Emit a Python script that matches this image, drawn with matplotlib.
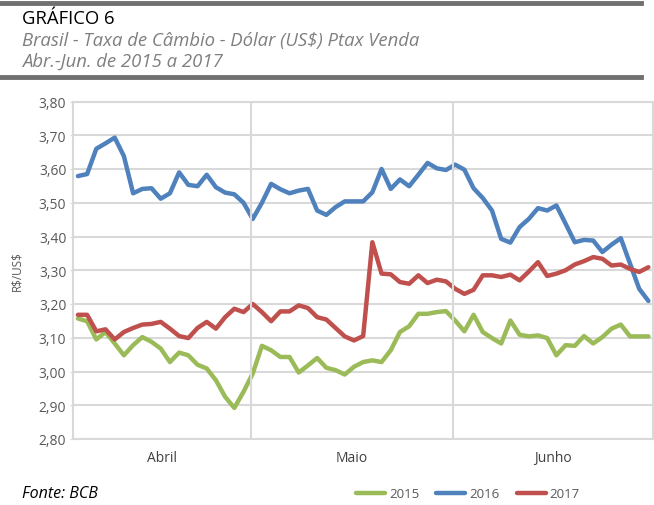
import numpy as np
import matplotlib.pyplot as plt
from matplotlib.lines import Line2D

plt.rcParams['font.family'] = ['Open Sans', 'DejaVu Sans']

# Ptax venda, dias úteis de abril a junho (R$/US$)
y2015 = [3.157, 3.149, 3.095, 3.117, 3.083, 3.048, 3.078, 3.102, 3.088, 3.068,
         3.028, 3.056, 3.048, 3.020, 3.009, 2.974, 2.925, 2.892, 2.940, 2.994,
         3.076, 3.063, 3.043, 3.043, 2.997, 3.018, 3.040, 3.011, 3.004, 2.991,
         3.014, 3.028, 3.033, 3.028, 3.063, 3.117, 3.134, 3.171, 3.171, 3.176,
         3.179, 3.151, 3.119, 3.168, 3.117, 3.099, 3.083, 3.151, 3.109, 3.104,
         3.107, 3.099, 3.048, 3.078, 3.076, 3.105, 3.083, 3.102, 3.127, 3.139,
         3.104, 3.104, 3.104]
y2016 = [3.579, 3.585, 3.660, 3.676, 3.693, 3.638, 3.528, 3.541, 3.543, 3.512,
         3.528, 3.590, 3.553, 3.549, 3.583, 3.546, 3.530, 3.525, 3.500, 3.452,
         3.500, 3.556, 3.540, 3.528, 3.536, 3.541, 3.477, 3.464, 3.487, 3.504,
         3.504, 3.504, 3.531, 3.600, 3.541, 3.569, 3.549, 3.583, 3.618, 3.602,
         3.597, 3.613, 3.598, 3.543, 3.514, 3.477, 3.393, 3.382, 3.428, 3.452,
         3.484, 3.477, 3.492, 3.438, 3.383, 3.390, 3.388, 3.354, 3.376, 3.395,
         3.320, 3.245, 3.209]
y2017 = [3.168, 3.168, 3.119, 3.125, 3.095, 3.117, 3.129, 3.139, 3.141, 3.147,
         3.127, 3.105, 3.099, 3.129, 3.147, 3.127, 3.161, 3.186, 3.176, 3.200,
         3.176, 3.149, 3.178, 3.178, 3.196, 3.188, 3.161, 3.154, 3.129, 3.104,
         3.092, 3.105, 3.383, 3.290, 3.288, 3.265, 3.260, 3.285, 3.262, 3.272,
         3.267, 3.245, 3.230, 3.242, 3.285, 3.285, 3.280, 3.287, 3.270, 3.296,
         3.324, 3.283, 3.290, 3.300, 3.317, 3.327, 3.339, 3.334, 3.314, 3.317,
         3.304, 3.295, 3.309]

years = ['2015', '2016', '2017']
colors = ['#9BBB59', '#4F81BD', '#C0504D']
months = ['Abril', 'Maio', 'Junho']
month_edges = [-0.5, 18.78, 40.8, 62.5]

yticks = np.arange(2.80, 3.801, 0.10)
ytick_labels = [f'{v:.2f}'.replace('.', ',') for v in yticks]

fig = plt.figure(figsize=(6.54, 5.06), dpi=100)

# cabeçalho
fig.add_artist(Line2D([0, 0.98], [1 - 3.5 / 506] * 2, color='#707070', lw=3.5))
fig.add_artist(Line2D([0, 0.98], [1 - 78 / 506] * 2, color='#707070', lw=3.5))
fig.text(22 / 654, 1 - 19 / 506, 'GRÁFICO 6', fontsize=13.3, color='black', va='center')
fig.text(22 / 654, 1 - 41 / 506, 'Brasil - Taxa de Câmbio - Dólar (US\\$) Ptax Venda',
         fontsize=13.3, style='italic', color='#7f7f7f', va='center')
fig.text(22 / 654, 1 - 62 / 506, 'Abr.-Jun. de 2015 a 2017',
         fontsize=13.3, style='italic', color='#7f7f7f', va='center')

ax = fig.add_axes([73.3 / 654, 1 - 440 / 506, (653 - 73.3) / 654, (440 - 102.5) / 506])
x = np.arange(len(y2015))
for ys, c, lab in zip([y2015, y2016, y2017], colors, years):
    ax.plot(x, ys, color=c, lw=3.2, label=lab, solid_joinstyle='round', solid_capstyle='round')

ax.set_xlim(-0.5, len(x) - 0.5)
ax.set_ylim(2.80, 3.80)
ax.set_yticks(yticks)
ax.set_yticklabels(ytick_labels)
ax.set_xticks([])
ax.grid(axis='y', color='#d9d9d9', lw=1.5)
for e in month_edges[1:-1]:
    ax.axvline(e, color='#d9d9d9', lw=1.5)
for s in ax.spines.values():
    s.set_color('#d9d9d9')
    s.set_linewidth(1.5)
ax.set_axisbelow(True)
ax.tick_params(axis='y', length=2, color='#d9d9d9', labelsize=10, labelcolor='#595959', pad=3)
for i, m in enumerate(months):
    ax.text((month_edges[i] + month_edges[i + 1]) / 2, 2.745, m, ha='center', va='center',
            fontsize=10, color='#404040', transform=ax.transData, clip_on=False)
ax.set_ylabel('R\\$/US\\$', fontsize=8.5, color='#595959', labelpad=11)

fig.text(22 / 654, 1 - 494 / 506, 'Fonte: BCB', fontsize=11.5, style='italic', va='center')
fig.legend(loc='center', bbox_to_anchor=(468 / 654, 1 - 495 / 506), ncol=3, frameon=False,
           fontsize=9.5, handlelength=2.2, columnspacing=1.3, handletextpad=0.3, labelcolor='#595959')

fig.savefig('out.png', dpi=100)
